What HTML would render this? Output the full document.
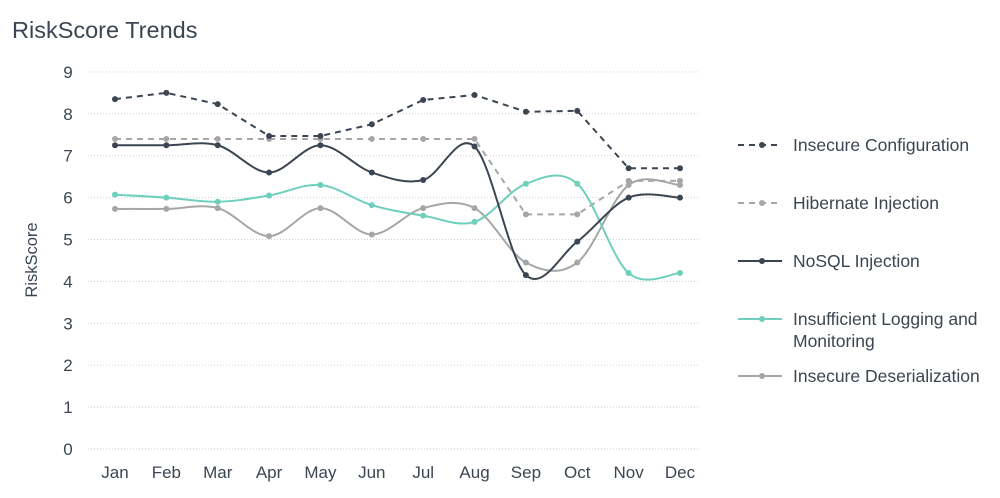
<!DOCTYPE html>
<html><head><meta charset="utf-8"><style>
html,body{margin:0;padding:0;background:#fff;}
svg{display:block;font-family:"Liberation Sans",sans-serif;}
</style></head><body>
<svg id="c" width="1000" height="498" viewBox="0 0 1000 498">
<text x="12" y="38" font-size="23.5" fill="#3b4652">RiskScore Trends</text>
<text transform="translate(37,260) rotate(-90)" font-size="16.5" fill="#3b4652" text-anchor="middle">RiskScore</text>
<g id="grid"></g>
<g id="series"></g>
<g font-size="17.5" fill="#3b4652">
<line x1="738" y1="145" x2="782" y2="145" stroke="#3b4652" stroke-width="2" stroke-dasharray="6,5"/><circle cx="762" cy="145" r="3" fill="#3b4652"/>
<text x="793" y="151">Insecure Configuration</text>
<line x1="738" y1="203" x2="782" y2="203" stroke="#a6a6a6" stroke-width="2" stroke-dasharray="6,5"/><circle cx="762" cy="203" r="3" fill="#a6a6a6"/>
<text x="793" y="209">Hibernate Injection</text>
<line x1="738" y1="261" x2="782" y2="261" stroke="#3b4652" stroke-width="2"/><circle cx="762" cy="261" r="3" fill="#3b4652"/>
<text x="793" y="267">NoSQL Injection</text>
<line x1="738" y1="319" x2="782" y2="319" stroke="#6fcfbd" stroke-width="2"/><circle cx="762" cy="319" r="3" fill="#6fcfbd"/>
<text x="793" y="325">Insufficient Logging and</text>
<text x="793" y="347">Monitoring</text>
<line x1="738" y1="376" x2="782" y2="376" stroke="#a6a6a6" stroke-width="2"/><circle cx="762" cy="376" r="3" fill="#a6a6a6"/>
<text x="793" y="382">Insecure Deserialization</text>
</g>
</svg>
<script>
var NS="http://www.w3.org/2000/svg";
var y0=449,unit=41.9,x0=115,dx=(680-115)/11;
function Y(v){return y0-v*unit;}
function X(i){return x0+i*dx;}
var g=document.getElementById('grid'),s=document.getElementById('series');
function el(t,a,p){var e=document.createElementNS(NS,t);for(var k in a)e.setAttribute(k,a[k]);p.appendChild(e);return e;}
for(var v=0;v<=9;v++){
 el('line',{x1:88,x2:700,y1:Y(v),y2:Y(v),stroke:'#cfcfcf','stroke-width':1,'stroke-dasharray':'1,2'},g);
 var t=el('text',{x:68,y:Y(v)+6,'font-size':17,fill:'#3b4652','text-anchor':'middle'},g);t.textContent=v;
}
var m=['Jan','Feb','Mar','Apr','May','Jun','Jul','Aug','Sep','Oct','Nov','Dec'];
m.forEach(function(n,i){var t=el('text',{x:X(i),y:478,'font-size':17,fill:'#3b4652','text-anchor':'middle'},g);t.textContent=n;});
var S=[
 {d:[7.4,7.4,7.4,7.4,7.4,7.4,7.4,7.4,5.6,5.6,6.4,6.4],c:'#a6a6a6',dash:true},
 {d:[5.73,5.73,5.75,5.08,5.75,5.12,5.75,5.75,4.45,4.45,6.3,6.3],c:'#a6a6a6'},
 {d:[6.07,6.0,5.9,6.05,6.3,5.82,5.57,5.42,6.33,6.33,4.2,4.2],c:'#6fcfbd'},
 {d:[7.25,7.25,7.25,6.6,7.25,6.6,6.42,7.22,4.15,4.95,6.0,6.0],c:'#3b4652'},
 {d:[8.35,8.5,8.23,7.47,7.47,7.75,8.33,8.45,8.05,8.07,6.7,6.7],c:'#3b4652',dash:true}
];
S.forEach(function(o){
 var p=o.d.map(function(v,i){return [X(i),Y(v)];});var d;
 if(o.dash){d='M'+p.map(function(q){return q[0]+','+q[1];}).join(' L');}
 else{
  d='M'+p[0][0]+','+p[0][1];
  for(var i=0;i<p.length-1;i++){
   var a=p[i-1]||p[i],b=p[i],c=p[i+1],e=p[i+2]||c;
   var c1=[b[0]+(c[0]-a[0])/6,b[1]+(c[1]-a[1])/6],c2=[c[0]-(e[0]-b[0])/6,c[1]-(e[1]-b[1])/6];
   d+=' C'+c1+' '+c2+' '+c;
  }
 }
 el('path',{d:d,fill:'none',stroke:o.c,'stroke-width':2,'stroke-dasharray':o.dash?'6,5':'none'},s);
 p.forEach(function(q){el('circle',{cx:q[0],cy:q[1],r:3,fill:o.c},s);});
});
</script>
</body></html>
